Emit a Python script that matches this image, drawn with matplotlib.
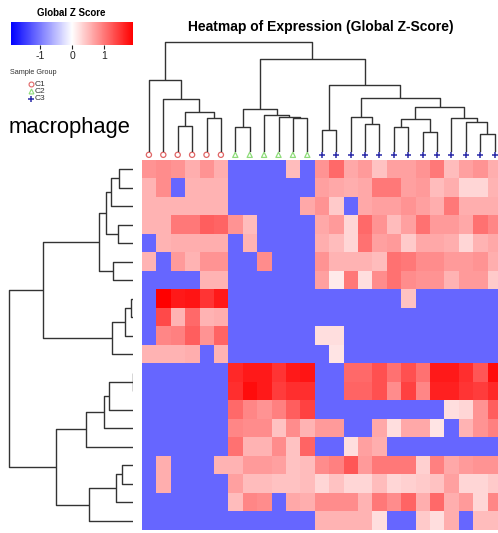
import numpy as np
import matplotlib
matplotlib.use("Agg")
import matplotlib.pyplot as plt
from matplotlib.colors import LinearSegmentedColormap

plt.rcParams['font.family'] = ['Liberation Sans', 'DejaVu Sans']

# ---- data ----
groups = ['C1'] * 6 + ['C2'] * 6 + ['C3'] * 13
group_names = ['C1', 'C2', 'C3']
group_markers = {'C1': 'o', 'C2': '^', 'C3': '+'}
group_colors = {'C1': '#e06666', 'C2': '#8fdc7a', 'C3': '#2a2aa8'}

B = -1.14  # the flat blue value (floor of the z-scores)
z = np.array([
    # C1 ........................... C2 ............................ C3 ...........................................................
    [0.8, 0.85, 0.8, 0.6, 0.8, 0.6,   B, B, B, B, 0.5, B,             0.8, 1.1, 0.65, 0.75, 0.45, 0.7, 0.7, 0.8, 1.0, 0.5, 0.7, 0.8, 0.6],
    [0.55, 0.85, B, 0.55, 0.55, 0.55, B, B, B, B, B, B,               0.7, 0.65, 0.6, 0.65, 1.0, 1.0, 0.7, 0.75, 0.5, 0.6, 0.3, 0.3, 0.55],
    [0.55, 0.55, 0.55, 0.55, 0.55, 0.55, B, B, B, B, B, 0.65,         0.8, 0.4, B, 0.65, 0.7, 0.7, 0.8, 0.7, 0.6, 1.0, 0.6, 0.6, 0.6],
    [0.55, 0.55, 1.0, 1.0, 1.2, 1.15, 0.8, 0.5, B, B, B, B,           0.65, 0.75, 0.3, 1.1, 0.8, 0.5, 0.7, 1.05, 0.75, 0.75, 0.65, 1.05, 0.9],
    [B, 0.55, 0.6, 0.6, 0.6, 0.6,     B, 0.55, B, B, B, B,            0.6, 0.5, 0.3, 1.05, 0.7, 0.75, 0.4, 0.65, 0.65, 0.6, 0.3, 0.55, 0.65],
    [0.55, B, 0.75, 0.55, 0.8, 0.8,   B, B, 0.85, B, B, B,            0.8, 0.55, 0.55, 0.55, 0.5, 1.05, 1.0, 0.85, 0.85, 0.75, 0.75, 0.8, 0.6],
    [B, B, B, B, 0.55, 0.55,          B, B, B, B, B, B,               0.7, 0.15, 1.0, 0.25, 0.85, 1.05, 0.85, 0.8, 0.8, 0.55, 0.75, 0.75, 0.4],
    [B, 1.9, 1.7, 1.75, 1.5, 1.7,     B, B, B, B, B, B,               B, B, B, B, B, B, 0.45, B, B, B, B, B, B],
    [B, 1.35, 0.55, 1.1, 0.55, 0.6,   B, B, B, B, B, B,               B, B, B, B, B, B, B, B, B, B, B, B, B],
    [B, 0.9, 0.95, 1.2, 0.8, 1.15,    B, B, B, B, B, B,               0.25, 0.25, B, B, B, B, B, B, B, B, B, B, B],
    [0.55, 0.55, 0.55, 0.6, B, 0.55,  B, B, B, B, B, B,               B, 0.2, B, B, B, B, B, B, B, B, B, B, B],
    [B, B, B, B, B, B,                1.6, 1.7, 1.7, 1.5, 1.7, 1.75,  B, B, 1.1, 1.1, 1.3, 1.05, 1.3, 1.05, 1.7, 1.7, 1.55, 1.25, 1.8],
    [B, B, B, B, B, B,                1.55, 1.8, 1.7, 1.45, 1.55, 1.55, B, B, 1.15, 1.15, 1.3, 0.85, 1.4, 0.9, 1.65, 1.65, 1.5, 1.45, 1.6],
    [B, B, B, B, B, B,                1.1, 0.9, 0.8, 0.95, 1.2, 1.4,  B, B, B, B, B, B, B, B, B, 0.25, 0.3, 0.8, 1.2],
    [B, B, B, B, B, B,                0.9, 0.85, 0.85, 0.45, 0.85, 0.55, 0.75, 0.75, B, B, 0.65, 0.25, 0.65, 0.65, 0.2, B, 0.55, 0.8, 0.95],
    [B, B, B, B, B, B,                1.05, 0.55, 0.55, 0.85, 0.45, 1.15, B, B, 0.25, 0.7, 0.6, B, B, B, B, B, B, B, B],
    [B, 0.6, B, B, B, 0.55,           0.55, 0.75, 0.75, 0.7, 0.45, 0.5, 0.85, 0.95, 1.25, 0.75, 1.0, 1.0, 1.0, 0.35, 0.95, 0.65, 0.75, 0.8, 0.8],
    [B, 0.6, B, B, B, B,              0.7, 0.5, 0.5, 0.45, 0.45, 0.5, 0.3, 0.45, 0.3, 0.3, 0.5, 0.3, 0.35, 0.4, 0.45, 0.7, 0.3, 0.3, 0.4],
    [B, B, B, B, B, B,                0.5, 0.9, 0.85, B, 0.65, 0.6,   0.85, 0.85, 0.85, 0.55, 1.0, 0.85, 1.15, 0.6, 1.1, 0.6, 0.75, 0.3, 0.9],
    [B, B, B, B, B, B,                B, B, B, B, B, B,               0.55, 0.55, 0.55, 0.55, 0.25, B, B, 0.4, 0.25, 0.6, B, 0.5, 0.5],
])

# linkage tables: (left, right, height); ids >= n are earlier merges
col_links = [
    (2, 3, 25.7), (4, 5, 33.4), (25, 26, 39.4), (1, 27, 52.7), (0, 28, 71.7),
    (6, 7, 25.0), (10, 11, 33.4), (9, 31, 34.2), (8, 32, 36.7), (30, 33, 42.4),
    (12, 13, 21.7), (15, 16, 27.4), (14, 36, 35.0), (17, 18, 25.0), (19, 20, 19.4),
    (38, 39, 32.4), (23, 24, 17.4), (22, 41, 30.0), (21, 42, 34.0), (40, 43, 45.0),
    (37, 44, 53.4), (35, 45, 66.7), (34, 46, 92.4), (29, 47, 110.0),
]
row_links = [
    (0, 1, 14.0), (20, 2, 22.7), (3, 4, 15.0), (21, 22, 27.3), (5, 6, 20.7),
    (23, 24, 34.7), (7, 8, 2.7), (26, 9, 8.3), (27, 10, 21.0), (25, 28, 90.7),
    (11, 12, 0.5), (30, 13, 24.3), (31, 14, 29.0), (32, 15, 47.3), (16, 17, 11.0),
    (34, 18, 17.3), (35, 19, 44.0), (33, 36, 77.3), (29, 37, 124.0),
]


def draw_dendro(ax, links, n, orient='top', color='#333333', lw=1.0):
    pos = {i: float(i) for i in range(n)}
    hgt = {i: 0.0 for i in range(n)}
    for k, (a, b, h) in enumerate(links):
        xs = [pos[a], pos[a], pos[b], pos[b]]
        ys = [hgt[a], h, h, hgt[b]]
        if orient == 'top':
            ax.plot(xs, ys, color=color, lw=lw, solid_capstyle='butt')
        else:
            ax.plot(ys, xs, color=color, lw=lw, solid_capstyle='butt')
        pos[n + k] = (pos[a] + pos[b]) / 2
        hgt[n + k] = h


W, H = 498, 533
fig = plt.figure(figsize=(W / 100, H / 100), dpi=100)


def px_axes(x0, y0, x1, y1):
    return fig.add_axes([x0 / W, 1 - y1 / H, (x1 - x0) / W, (y1 - y0) / H])


nrow, ncol = z.shape
hx0, hx1, hy0, hy1 = 141.7, 141.7 + 14.4 * ncol, 160, 530

cmap = LinearSegmentedColormap.from_list('bwr2', ['#0000ff', '#ffffff', '#ff0000'])

ax = px_axes(hx0, hy0, hx1, hy1)
im = ax.imshow(z, cmap=cmap, vmin=-1.9, vmax=1.9, aspect='auto', interpolation='nearest')
for g in group_names:
    idx = [i for i, gg in enumerate(groups) if gg == g]
    if group_markers[g] == '+':
        ax.scatter(idx, [-0.78] * len(idx), marker='+', s=22, c=group_colors[g],
                   linewidths=1.1, clip_on=False)
    else:
        ax.scatter(idx, [-0.78] * len(idx), marker=group_markers[g], s=14,
                   facecolors='none', edgecolors=group_colors[g], linewidths=0.9, clip_on=False)
ax.set_xlim(-0.5, ncol - 0.5)
ax.set_ylim(nrow - 0.5, -0.5)
ax.set_axis_off()

# column dendrogram
axc = px_axes(hx0, 0, hx1, 151.7)
draw_dendro(axc, col_links, ncol, 'top')
axc.set_xlim(-0.5, ncol - 0.5)
axc.set_ylim(0, 151.7)
axc.set_axis_off()

# row dendrogram
axr = px_axes(0, hy0, 133.3, hy1)
draw_dendro(axr, row_links, nrow, 'left')
axr.set_xlim(133.3, 0)
axr.set_ylim(nrow - 0.5, -0.5)
axr.set_axis_off()

# colour key
cax = px_axes(11, 22, 133, 45)
cb = fig.colorbar(im, cax=cax, orientation='horizontal', ticks=[-1, 0, 1])
cb.outline.set_visible(False)
cb.ax.tick_params(labelsize=7.5, length=3, width=0.8, pad=1.5, colors='#222222')
cb.ax.set_xticklabels(['-1', '0', '1'])
fig.text(71 / W, 1 - 13 / H, 'Global Z Score', ha='center', va='center',
         fontsize=7, fontweight='bold')

# sample group legend
fig.text(10 / W, 1 - 72 / H, 'Sample Group', ha='left', va='center', fontsize=5.2, color='#333333')
for i, g in enumerate(group_names):
    yy = 1 - (84 + 7.3 * i) / H
    fig.text(35 / W, yy, g, ha='left', va='center', fontsize=6, color='#333333')
    if group_markers[g] == '+':
        fig.lines.append(plt.Line2D([31 / W], [yy], marker='+', ms=5, mew=1.1,
                                    color=group_colors[g], transform=fig.transFigure))
    else:
        fig.lines.append(plt.Line2D([31 / W], [yy], marker=group_markers[g], ms=3.5, mew=0.8,
                                    mfc='none', mec=group_colors[g], ls='none',
                                    transform=fig.transFigure))

fig.text(9 / W, 1 - 128 / H, 'macrophage', ha='left', va='center', fontsize=15.8)
fig.text(321 / W, 1 - 27 / H, 'Heatmap of Expression (Global Z-Score)', ha='center',
         va='center', fontsize=10, fontweight='bold')

fig.savefig('out.png', dpi=100)
